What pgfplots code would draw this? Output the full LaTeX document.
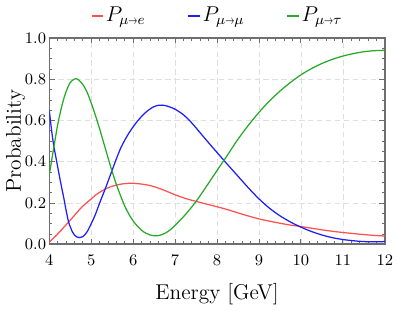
\documentclass[border=0pt]{standalone}
\usepackage{pgfplots}
\usepackage{graphicx}
\pgfplotsset{compat=1.18}
\definecolor{cRed}{RGB}{255,80,80}
\definecolor{cBlue}{RGB}{30,30,250}
\definecolor{cGreen}{RGB}{40,170,40}
\definecolor{cAxis}{RGB}{110,110,110}
\newcommand{\lline}[1]{\textcolor{#1}{\rule[0.55ex]{6.5pt}{0.7pt}}\hspace{1.5pt}}
\newcommand{\sto}{\mathord{\scalebox{0.6}[0.9]{$\scriptstyle\rightarrow$}}}
\begin{document}
\begin{tikzpicture}
\begin{axis}[
  scale only axis, width=188pt, height=115.5pt,
  xmin=4, xmax=12, ymin=0, ymax=1,
  xtick={4,5,6,7,8,9,10,11,12},
  ytick={0,0.2,0.4,0.6,0.8,1.0},
  yticklabel style={/pgf/number format/.cd, fixed, fixed zerofill, precision=1, /tikz/xshift=1.7pt},
  xticklabel style={yshift=-2.5pt},
  minor x tick num=4, minor y tick num=3,
  major tick length=3pt, minor tick length=1.6pt,
  tick style={cAxis, line width=0.5pt},
  grid=major, grid style={densely dashed, gray!25, line width=0.4pt},
  axis line style={cAxis, line width=0.9pt},
  xlabel={Energy [GeV]}, ylabel={Probability},
  label style={font=\large},
  ylabel shift=-7pt, xlabel shift=3pt,
  ticklabel style={font=\fontsize{9.5}{11}\selectfont},
  legend style={at={(0.5,1.03)}, anchor=south, draw=none, legend columns=3, font=\large},
  legend image code/.code={},
]
\addplot[cRed, line width=0.7pt, smooth] coordinates {
(4.00,0.010) (4.10,0.030) (4.20,0.050) (4.30,0.072) (4.46,0.108) (4.60,0.140)
(4.75,0.175) (4.90,0.203) (5.00,0.220) (5.10,0.238) (5.20,0.252) (5.33,0.267)
(5.45,0.278) (5.60,0.287) (5.75,0.293) (5.92,0.296) (6.00,0.296) (6.20,0.292)
(6.44,0.283) (6.70,0.265) (7.00,0.240) (7.25,0.222) (7.50,0.208) (7.75,0.195)
(8.00,0.182) (8.25,0.168) (8.50,0.152) (8.75,0.137) (9.00,0.123) (9.25,0.112)
(9.50,0.102) (9.75,0.093) (10.00,0.086) (10.25,0.078) (10.50,0.070) (10.75,0.063)
(11.00,0.057) (11.25,0.052) (11.50,0.047) (11.75,0.043) (12.00,0.040)
};
\addlegendentry{\lline{cRed}$P_{\mu\sto e}$}
\addplot[cBlue, line width=0.7pt, smooth] coordinates {
(4.00,0.648) (4.05,0.560) (4.10,0.485) (4.15,0.430) (4.20,0.375) (4.27,0.300)
(4.35,0.220) (4.40,0.165) (4.46,0.108) (4.50,0.085) (4.55,0.060) (4.60,0.045)
(4.65,0.036) (4.72,0.032) (4.80,0.037) (4.90,0.060) (5.00,0.100) (5.10,0.145)
(5.20,0.200) (5.33,0.267) (5.40,0.305) (5.50,0.360) (5.60,0.415) (5.70,0.465)
(5.80,0.505) (5.90,0.540) (6.00,0.570) (6.10,0.597) (6.20,0.620) (6.30,0.640)
(6.40,0.656) (6.50,0.668) (6.60,0.674) (6.70,0.675) (6.80,0.671) (6.90,0.664)
(7.00,0.655) (7.20,0.628) (7.40,0.588) (7.60,0.540) (7.80,0.492) (8.00,0.445)
(8.25,0.387) (8.50,0.330) (8.75,0.273) (9.00,0.220) (9.25,0.175) (9.50,0.138)
(9.75,0.108) (10.00,0.083) (10.25,0.062) (10.50,0.045) (10.75,0.032) (11.00,0.023)
(11.25,0.017) (11.50,0.013) (11.75,0.012) (12.00,0.013)
};
\addlegendentry{\hspace*{20pt}\lline{cBlue}$P_{\mu\sto\mu}$}
\addplot[cGreen, line width=0.7pt, smooth] coordinates {
(4.00,0.338) (4.05,0.400) (4.11,0.473) (4.20,0.580) (4.31,0.680) (4.40,0.740)
(4.50,0.785) (4.62,0.803) (4.70,0.797) (4.80,0.775) (4.90,0.738) (5.00,0.685)
(5.10,0.625) (5.20,0.560) (5.30,0.490) (5.40,0.420) (5.49,0.358) (5.60,0.290)
(5.70,0.235) (5.80,0.185) (5.90,0.145) (6.00,0.113) (6.10,0.088) (6.20,0.068)
(6.30,0.054) (6.40,0.045) (6.52,0.041) (6.60,0.042) (6.70,0.048) (6.80,0.058)
(6.90,0.073) (7.00,0.092) (7.25,0.145) (7.50,0.208) (7.75,0.282) (8.00,0.358)
(8.25,0.433) (8.50,0.510) (8.75,0.578) (9.00,0.640) (9.25,0.695)
(9.50,0.743) (9.75,0.785) (10.00,0.822) (10.25,0.852) (10.50,0.877) (10.75,0.897)
(11.00,0.913) (11.25,0.925) (11.50,0.934) (11.75,0.939) (12.00,0.941)
};
\addlegendentry{\hspace*{20pt}\lline{cGreen}$P_{\mu\sto\tau}$}
\end{axis}
\end{tikzpicture}
\end{document}
